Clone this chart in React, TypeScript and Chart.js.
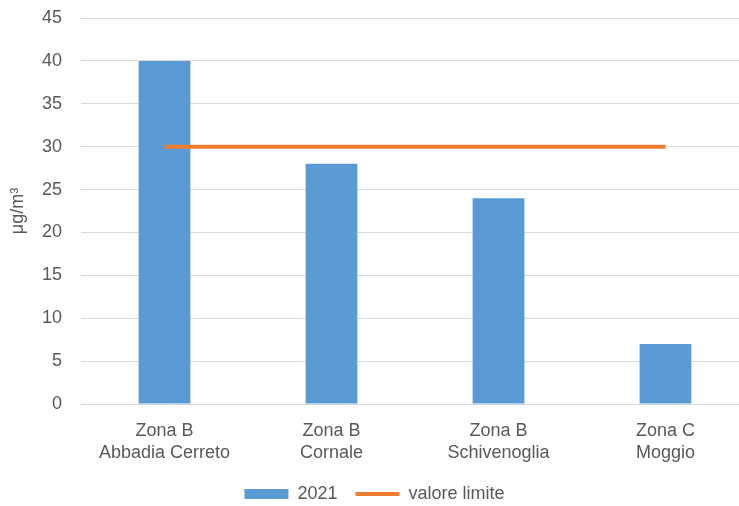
import React, { useEffect, useRef } from "react";
import { Chart, registerables } from "chart.js";

Chart.register(...registerables);

const categories: string[][] = [
  ["Zona B", "Abbadia Cerreto"],
  ["Zona B", "Cornale"],
  ["Zona B", "Schivenoglia"],
  ["Zona C", "Moggio"],
];
const values2021: number[] = [40, 28, 24, 7];
const limitValues: number[] = [30, 30, 30, 30];
const yTitle = "μg/m³";

export default function App() {
  const ref = useRef<HTMLCanvasElement | null>(null);
  useEffect(() => {
    document.body.style.overflow = "hidden";
    const font = "'Liberation Sans', Arial, sans-serif";
    const chart = new Chart(ref.current!, {
      type: "bar",
      data: {
        labels: categories,
        datasets: [
          {
            type: "bar",
            label: "2021",
            data: values2021,
            backgroundColor: "#5B9BD5",
            borderWidth: 0,
            barPercentage: 0.31,
            categoryPercentage: 1,
            order: 2,
          },
          {
            type: "line",
            label: "valore limite",
            data: limitValues,
            borderColor: "#ED7D31",
            backgroundColor: "#ED7D31",
            borderWidth: 4,
            pointRadius: 0,
            order: 1,
          },
        ],
      },
      options: {
        animation: false,
        responsive: false,
        maintainAspectRatio: false,
        layout: { padding: { top: 18, right: 3, bottom: 0, left: 0 } },
        plugins: {
          tooltip: { enabled: false },
          legend: {
            position: "bottom",
            labels: {
              usePointStyle: true,
              pointStyleWidth: 44,
              boxHeight: 10,
              padding: 18,
              color: "#595959",
              font: { family: font, size: 18 },
              generateLabels: () => [
                {
                  text: "2021",
                  fillStyle: "#5B9BD5",
                  strokeStyle: "#5B9BD5",
                  lineWidth: 0,
                  pointStyle: "rect",
                  datasetIndex: 0,
                  fontColor: "#595959",
                },
                {
                  text: "valore limite",
                  fillStyle: "#ED7D31",
                  strokeStyle: "#ED7D31",
                  lineWidth: 4,
                  pointStyle: "line",
                  datasetIndex: 1,
                  fontColor: "#595959",
                },
              ],
            },
          },
        },
        scales: {
          x: {
            grid: { display: false, drawTicks: false },
            border: { display: false },
            ticks: {
              color: "#595959",
              font: { family: font, size: 18, lineHeight: 1.22 },
              padding: 16,
              maxRotation: 0,
            },
            afterFit: (scale: any) => {
              scale.height = 63;
            },
          },
          y: {
            min: 0,
            max: 45,
            grid: { color: "#D9D9D9", drawTicks: false, lineWidth: 1 },
            border: { display: false },
            ticks: {
              stepSize: 5,
              color: "#595959",
              font: { family: font, size: 18 },
              padding: 19,
            },
            title: {
              display: true,
              text: yTitle,
              color: "#595959",
              font: { family: font, size: 18 },
              padding: { top: 7, bottom: 13 },
            },
            afterFit: (scale: any) => {
              scale.width = 81;
              scale.paddingTop = 0;
              scale.paddingBottom = 0;
            },
          },
        },
      },
    });
    return () => chart.destroy();
  }, []);
  return (
    <div style={{ position: "fixed", left: 0, top: 0, width: 752, height: 513 }}>
      <canvas ref={ref} width={752} height={513} style={{ width: 752, height: 513, display: "block" }} />
    </div>
  );
}
